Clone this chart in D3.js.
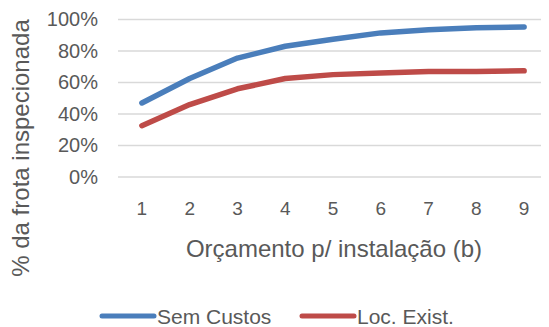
<!DOCTYPE html>
<html>
<head>
<meta charset="utf-8">
<script src="https://cdn.jsdelivr.net/npm/d3@7"></script>
<style>
  html, body { margin: 0; padding: 0; background: #fff; }
  svg text { font-family: "Liberation Sans", Arial, sans-serif; fill: #595959; }
</style>
</head>
<body>
<svg id="chart" width="549" height="327"></svg>
<script>
// Budget per installation (b)
const categories = [1, 2, 3, 4, 5, 6, 7, 8, 9];
// Share of the fleet inspected
const semCustos = [0.47, 0.625, 0.755, 0.83, 0.875, 0.915, 0.935, 0.947, 0.953];
const locExist  = [0.326, 0.46, 0.56, 0.625, 0.65, 0.66, 0.67, 0.67, 0.674];
const yTicks = [0, 0.2, 0.4, 0.6, 0.8, 1.0];
const seriesNames = ["Sem Custos", "Loc. Exist."];
const seriesColors = ["#4a7ebb", "#be4b48"];

const svg = d3.select("#chart");
const plot = { left: 118, right: 548, top: 19.5, bottom: 177 };

const x = d3.scaleBand().domain(categories).range([plot.left, plot.right]);
const y = d3.scaleLinear().domain([0, 1]).range([plot.bottom, plot.top]);

// Horizontal gridlines
svg.append("g").selectAll("line").data(yTicks).join("line")
  .attr("x1", plot.left).attr("x2", plot.right - 7)
  .attr("y1", d => y(d)).attr("y2", d => y(d))
  .attr("stroke", "#d9d9d9").attr("stroke-width", 1.3);

// Y axis labels
const yAxis = d3.axisLeft(y).tickValues(yTicks).tickFormat(d3.format(".0%")).tickSize(0).tickPadding(0);
svg.append("g").attr("transform", `translate(${plot.left - 20},0)`).call(yAxis)
  .call(g => g.select(".domain").remove())
  .selectAll("text").attr("font-size", 20).style("fill", "#595959")
  .style("font-family", "Liberation Sans, Arial, sans-serif");

// X axis labels
const xAxis = d3.axisBottom(x).tickSize(0).tickPadding(0);
svg.append("g").attr("transform", `translate(0,${plot.bottom + 24})`).call(xAxis)
  .call(g => g.select(".domain").remove())
  .selectAll("text").attr("font-size", 19).attr("dy", "0.71em").style("fill", "#595959")
  .style("font-family", "Liberation Sans, Arial, sans-serif");

// Axis titles
svg.append("text").attr("x", 334).attr("y", 257).attr("text-anchor", "middle")
  .attr("font-size", 24).text("Orçamento p/ instalação (b)");
svg.append("text").attr("transform", "translate(29,148) rotate(-90)")
  .attr("text-anchor", "middle").attr("font-size", 24).text("% da frota inspecionada");

// Series lines
const line = d3.line().x((d, i) => x(categories[i]) + x.bandwidth() / 2).y(d => y(d));
[semCustos, locExist].forEach((s, i) => {
  svg.append("path").datum(s).attr("d", line).attr("fill", "none")
    .attr("stroke", seriesColors[i]).attr("stroke-width", 5.5)
    .attr("stroke-linecap", "round").attr("stroke-linejoin", "round");
});

// Legend
const legendX = [102, 302];
seriesNames.forEach((name, i) => {
  const g = svg.append("g").attr("transform", `translate(${legendX[i]},316)`);
  g.append("line").attr("x1", 0).attr("x2", 52).attr("stroke", seriesColors[i])
    .attr("stroke-width", 5).attr("stroke-linecap", "round");
  g.append("text").attr("x", 55).attr("y", 7.5).attr("font-size", 21).text(name);
});
</script>
</body>
</html>
